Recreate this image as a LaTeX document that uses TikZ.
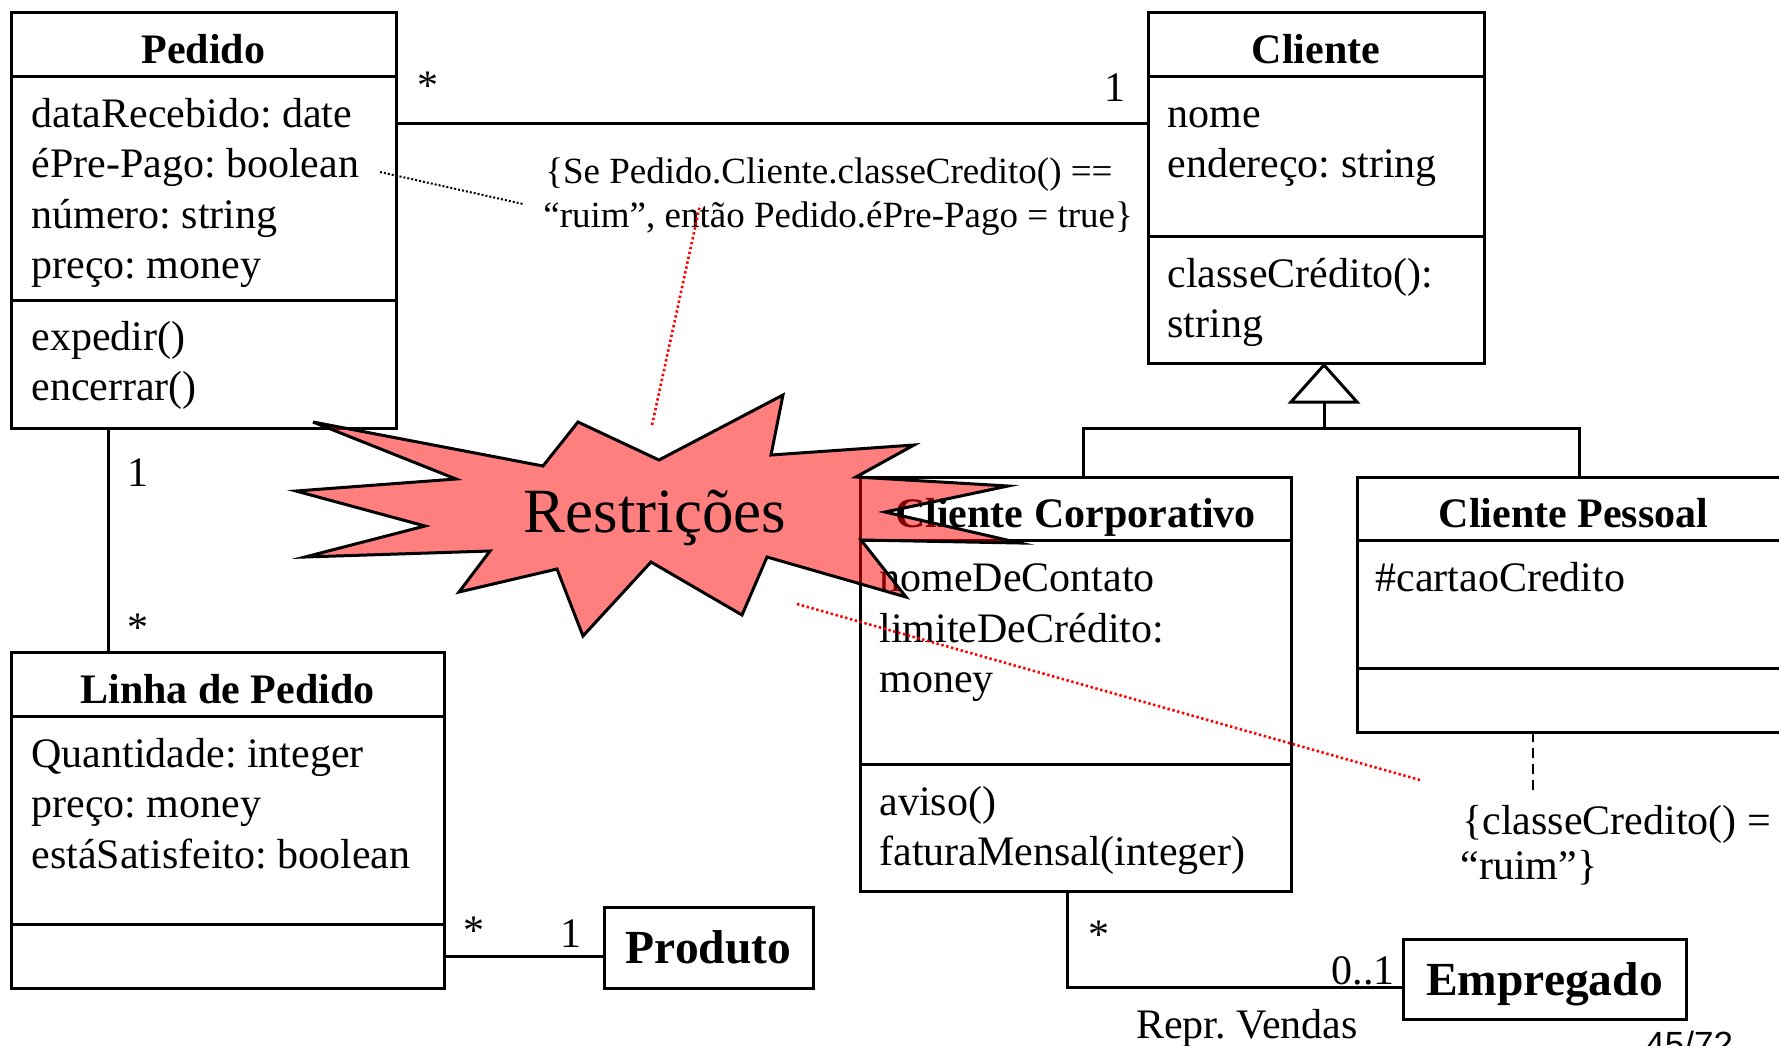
\documentclass[tikz,border=0pt]{standalone}
\usepackage{fontspec}
\setmainfont{Liberation Serif}
\newfontfamily\pagefont{Liberation Sans}
\usetikzlibrary{calc}
\frenchspacing
\newcommand\bodyfs{\fontsize{21}{25.5}\selectfont}
\newcommand\consfs{\fontsize{18.5}{22}\selectfont}
\newcommand\bigfs{\fontsize{23.75}{28}\selectfont}
\newcommand\starfs{\fontsize{31.5}{36}\selectfont}
\begin{document}
\begin{tikzpicture}[x=0.5pt,y=0.5pt,
  comp/.style={draw, line width=1.5pt, inner sep=0pt, outer sep=0pt, anchor=north west},
  txt/.style={anchor=base west, inner sep=0pt, font=\bodyfs},
  ttl/.style={anchor=base, inner sep=0pt, font=\bodyfs\bfseries},
  mult/.style={anchor=base, inner sep=0pt, font=\bodyfs},
  cons/.style={anchor=base west, inner sep=0pt, font=\consfs},
  assoc/.style={line width=1.5pt},
  reddot/.style={red, line width=1.3pt, dash pattern=on 1.2pt off 1.3pt},
  blackdot/.style={black, line width=1pt, dash pattern=on 1pt off 1pt},
  notedash/.style={line width=1pt, dash pattern=on 5pt off 3pt},
  burst/.style={draw=black, line width=1.5pt, fill=red, fill opacity=0.5, line join=miter},
  single/.style={draw, line width=1.5pt, inner sep=0pt, outer sep=0pt, anchor=north west, font=\bigfs\bfseries},
]
\useasboundingbox[fill=white] (0,0) rectangle (1779,-1045);

% ---------- Pedido ----------
\node[comp, minimum width=192.5pt, minimum height=32pt] (pedT) at (11,-12) {};
\node[comp, minimum width=192.5pt, minimum height=112pt] (pedA) at (pedT.south west) {};
\node[comp, minimum width=192.5pt, minimum height=64pt] (pedM) at (pedA.south west) {};
\node[ttl] (pedN) at (203.5,-63) {Pedido};
\node[txt] (ped1) at (31,-127) {dataRecebido: date};
\node[txt] (ped2) at (31,-177) {éPre-Pago: boolean};
\node[txt] (ped3) at (31,-228) {número: string};
\node[txt] (ped4) at (31,-278) {preço: money};
\node[txt] (ped5) at (31,-350) {expedir()};
\node[txt] (ped6) at (31,-400) {encerrar()};

% ---------- Cliente ----------
\node[comp, minimum width=168pt, minimum height=32pt] (cliT) at (1148,-12) {};
\node[comp, minimum width=168pt, minimum height=80pt] (cliA) at (cliT.south west) {};
\node[comp, minimum width=168pt, minimum height=63.5pt] (cliM) at (cliA.south west) {};
\node[ttl] (cliN) at (1316,-63) {Cliente};
\node[txt] (cli1) at (1167,-127) {nome};
\node[txt] (cli2) at (1167,-177) {endereço: string};
\node[txt] (cli3) at (1167,-287) {classeCrédito():};
\node[txt] (cli4) at (1167,-337) {string};

% ---------- Cliente Corporativo ----------
\node[comp, minimum width=215.5pt, minimum height=31.5pt] (corT) at (860,-477) {};
\node[comp, minimum width=215.5pt, minimum height=112pt] (corA) at (corT.south west) {};
\node[comp, minimum width=215.5pt, minimum height=63.5pt] (corM) at (corA.south west) {};
\node[ttl] (corN) at (1075.5,-527) {Cliente Corporativo};
\node[txt] (cor1) at (879,-591) {nomeDeContato};
\node[txt] (cor2) at (879,-642) {limiteDeCrédito:};
\node[txt] (cor3) at (879,-692) {money};
\node[txt] (cor4) at (879,-815) {aviso()};
\node[txt] (cor5) at (879,-865) {faturaMensal(integer)};

% ---------- Cliente Pessoal ----------
\node[comp, minimum width=216.5pt, minimum height=31.5pt] (pesT) at (1357,-477) {};
\node[comp, minimum width=216.5pt, minimum height=64pt] (pesA) at (pesT.south west) {};
\node[comp, minimum width=216.5pt, minimum height=32pt] (pesM) at (pesA.south west) {};
\node[ttl] (pesN) at (1573.5,-527) {Cliente Pessoal};
\node[txt] (pes1) at (1375,-591) {\#cartaoCredito};

% ---------- Linha de Pedido ----------
\node[comp, minimum width=216.5pt, minimum height=32pt] (linT) at (11,-652) {};
\node[comp, minimum width=216.5pt, minimum height=104pt] (linA) at (linT.south west) {};
\node[comp, minimum width=216.5pt, minimum height=32pt] (linM) at (linA.south west) {};
\node[ttl] (linN) at (227.5,-703) {Linha de Pedido};
\node[txt] (lin1) at (31,-767) {Quantidade: integer};
\node[txt] (lin2) at (31,-817) {preço: money};
\node[txt] (lin3) at (31,-868) {estáSatisfeito: boolean};

% ---------- Produto / Empregado ----------
\node[single, minimum width=104.5pt, minimum height=40.5pt] (prod) at (604,-907) {Produto};
\node[single, minimum width=141.5pt, minimum height=40pt, text depth=0pt] (emp) at (1403,-939) {Empregado};

% ---------- generalization ----------
\coordinate (gApex) at ([xshift=4pt,yshift=-1pt]cliM.south);
\coordinate (gBase) at ([yshift=-18.5pt]gApex);
\coordinate (gBar) at ([yshift=-31.5pt]gApex);
\draw[assoc, fill=white, line join=miter] (gApex) -- ([xshift=-16.5pt]gBase) -- ([xshift=16.5pt]gBase) -- cycle;
\draw[assoc] (gBase) -- (gBar);
\draw[assoc] ([xshift=4pt]corT.north) |- (gBar) -| ([xshift=3pt]pesT.north);

% ---------- associations ----------
\draw[assoc] ([yshift=-23.5pt]pedA.north east) -- ([yshift=-23.5pt]cliA.north west);
\draw[assoc] ([xshift=48.5pt]pedM.south west) -- ([xshift=48.5pt]linT.north west);
\draw[assoc] (linM.east) -- (linM.east -| prod.west);
\draw[assoc] ([xshift=103.5pt]corM.south west) |- ([yshift=-4pt]emp.west);

\node[mult] (m1) at (428,-99) {*};
\node[mult] (m2) at (1115,-101) {1};
\node[mult] (m3) at (138,-486) {1};
\node[mult] (m4) at (138,-641) {*};
\node[mult] (m5) at (474,-944) {*};
\node[mult] (m6) at (571,-947) {1};
\node[mult] (m7) at (1099,-948) {*};
\node[mult, anchor=base east] (m8) at (1395,-984) {0..1};
\node[mult] (rv) at (1247,-1038) {Repr.\ Vendas};

% ---------- constraints ----------
\node[cons] (c1a) at (545,-183) {\{Se Pedido.Cliente.classeCredito() ==};
\node[cons] (c1b) at (543,-227) {“ruim”, então Pedido.éPre-Pago = true\}};
\coordinate (d1s) at (380,-172);
\coordinate (d1e) at (523,-204);
\draw[blackdot] (d1s) -- (d1e);

\node[txt] (c2a) at (1462,-834) {\{classeCredito() =};
\node[txt] (c2b) at (1460,-879) {“ruim”\}};
\draw[notedash] ([xshift=-20.5pt]pesM.south) -- ++(0,-63);

% ---------- burst ----------
\draw[burst] (313,-422) -- (543,-466) -- (578,-422) -- (659,-460) -- (783,-395)
  -- (771,-455) -- (914,-445) -- (856,-477) -- (1008,-486) -- (885,-512)
  -- (1020,-543) -- (861,-540) -- (906,-597) -- (767,-557) -- (742,-615)
  -- (651,-562) -- (583,-636) -- (557,-569) -- (459,-592) -- (490,-551)
  -- (305,-557) -- (425,-526) -- (296,-491) -- (456,-479) -- cycle;
\node[anchor=base, inner sep=0pt, font=\starfs] (restr) at (655,-532) {Restrições};

% ---------- red dotted pointers ----------
\coordinate (r1a) at (652,-425);
\coordinate (r1b) at (700,-205);
\draw[reddot] (r1a) -- (r1b);
\coordinate (r2a) at (797,-604);
\coordinate (r2b) at (1420,-780);
\draw[reddot] (r2a) -- (r2b);

% ---------- page number (cut off) ----------
\node[anchor=base west, inner sep=0pt, font=\pagefont\fontsize{17.5}{20}\selectfont] (pg) at (1645,-1056) {45/72};
\end{tikzpicture}
\end{document}
